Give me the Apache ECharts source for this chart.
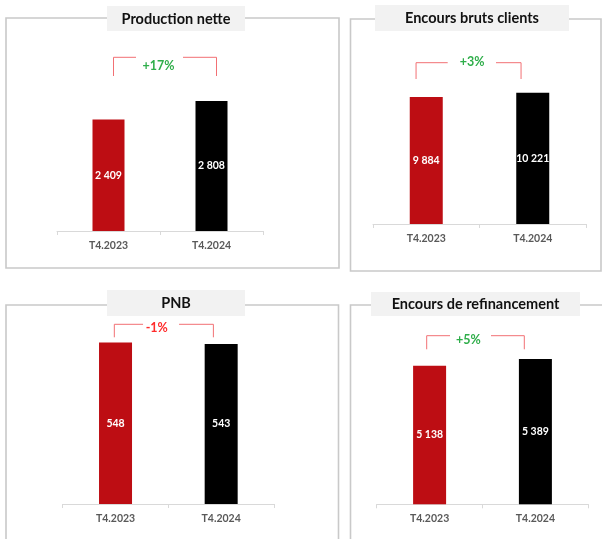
<!DOCTYPE html>
<html>
<head>
<meta charset="utf-8">
<script src="https://cdn.jsdelivr.net/npm/echarts@6/dist/echarts.min.js"></script>
<style>
html,body{margin:0;padding:0;background:#fff;}
#c{width:602px;height:539px;}
</style>
</head>
<body>
<div id="c"></div>
<script>
// ---- data ----
const categories = ['T4.2023', 'T4.2024'];
const panelTitles = ['Production nette', 'Encours bruts clients', 'PNB', 'Encours de refinancement'];
const productionNette = [2409, 2808];
const encoursBrutsClients = [9884, 10221];
const pnb = [548, 543];
const encoursRefinancement = [5138, 5389];
const changeLabels = ['+17%', '+3%', '-1%', '+5%'];
const seriesValues = [productionNette, encoursBrutsClients, pnb, encoursRefinancement];

// ---- layout / style (not data) ----
const FONT = 'Lato, "Noto Sans", sans-serif';
const RED = '#bd0d13';
const BLACK = '#000000';
const GREEN = '#2fae4a';
const NEG = '#ff2b2b';
const BRACKET = '#f27074';

const layouts = [
  { grid: {left: 57, top: 60, width: 206, height: 171}, yMax: 3693, barW: 32,
    box: [6, 18, 339, 268], tbox: [107, 6, 245, 31],
    br: {dx0: 5, dx1: 5, top: -2.7, leg: 18.7, tdx: -1.5, tdy: 8.7, gl: -22.5, gr: 24.5} },
  { grid: {left: 373, top: 60, width: 213, height: 164}, yMax: 12763, barW: 33,
    box: [350.5, 19, 601, 271], tbox: [375, 5, 569, 31],
    br: {dx0: -10.2, dx1: -11.7, top: 2.7, leg: 16.3, tdx: -7.5, tdy: -0.7, gl: -24.3, gr: 24} },
  { grid: {left: 62.7, top: 320, width: 211.3, height: 184}, yMax: 624.8, barW: 33,
    box: [6, 305, 338.5, 545], tbox: [107, 290, 245, 316],
    br: {dx0: -1.2, dx1: -7.8, top: 4.3, leg: 13, tdx: -11.6, tdy: 3.7, gl: -13.7, gr: 22.3} },
  { grid: {left: 376.7, top: 320, width: 211.6, height: 184.3}, yMax: 6831, barW: 33,
    box: [350.5, 305, 605, 545], tbox: [371, 292, 580, 316],
    br: {dx0: -2.9, dx1: -11.1, top: 15.7, leg: 13.6, tdx: -14.2, tdy: 4.3, gl: -18.3, gr: 22.7} }
];

function fmt(v) {
  return String(v).replace(/\B(?=(\d{3})+(?!\d))/g, ' ');
}

const grids = [], xAxes = [], yAxes = [], series = [], graphics = [];

layouts.forEach(function (L, i) {
  grids.push(Object.assign({containLabel: false}, L.grid));
  xAxes.push({
    type: 'category', gridIndex: i, data: categories,
    axisLine: {show: true, lineStyle: {color: '#d9d9d9', width: 1}},
    axisTick: {show: true, length: 4, lineStyle: {color: '#d9d9d9'}},
    axisLabel: {color: '#595959', fontFamily: FONT, fontWeight: 'bold', fontSize: 10.5, margin: 9}
  });
  yAxes.push({
    type: 'value', gridIndex: i, min: 0, max: L.yMax, show: false,
    splitLine: {show: false}
  });
  series.push({
    type: 'bar', xAxisIndex: i, yAxisIndex: i, barWidth: L.barW,
    data: seriesValues[i].map(function (v, j) {
      return {value: v, itemStyle: {color: j === 0 ? RED : BLACK}};
    }),
    label: {
      show: true, position: 'inside', color: '#ffffff', fontFamily: FONT,
      fontWeight: 'bold', fontSize: 10.5,
      formatter: function (p) { return fmt(p.value); }
    },
    silent: true
  });
  const br = L.br;
  const lbl = changeLabels[i];
  series.push({
    type: 'custom', xAxisIndex: i, yAxisIndex: i, clip: false, silent: true,
    data: [[0, 0]],
    renderItem: function (params, api) {
      const p0 = api.coord([0, 0]);
      const p1 = api.coord([1, 0]);
      const top = params.coordSys.y + br.top;
      const x0 = p0[0] + br.dx0, x1 = p1[0] + br.dx1;
      const tx = (p0[0] + p1[0]) / 2 + br.tdx;
      const ty = top + br.tdy;
      const ls = {stroke: BRACKET, lineWidth: 1, fill: null};
      return {
        type: 'group',
        children: [
          {type: 'polyline', shape: {points: [[x0, top + br.leg], [x0, top], [tx + br.gl, top]]}, style: ls},
          {type: 'polyline', shape: {points: [[tx + br.gr, top], [x1, top], [x1, top + br.leg]]}, style: ls},
          {type: 'text', style: {
            text: lbl, x: tx, y: ty, align: 'center', verticalAlign: 'middle',
            fill: lbl.charAt(0) === '-' ? NEG : GREEN,
            font: 'bold 12.5px ' + FONT
          }}
        ]
      };
    }
  });
  const b = L.box;
  graphics.push({
    type: 'rect', z: 0, silent: true,
    shape: {x: b[0], y: b[1], width: b[2] - b[0], height: b[3] - b[1]},
    style: {fill: null, stroke: '#c9c9c9', lineWidth: 1.6}
  });
  const t = L.tbox;
  graphics.push({
    type: 'rect', z: 1, silent: true,
    shape: {x: t[0], y: t[1], width: t[2] - t[0], height: t[3] - t[1]},
    style: {fill: '#f2f2f2'}
  });
  graphics.push({
    type: 'text', z: 2, silent: true,
    style: {
      text: panelTitles[i], x: (t[0] + t[2]) / 2, y: (t[1] + t[3]) / 2 + 0.5,
      align: 'center', verticalAlign: 'middle', fill: '#111111',
      font: 'bold 14.5px ' + FONT
    }
  });
});

const chart = echarts.init(document.getElementById('c'), null, {renderer: 'canvas'});
chart.setOption({
  backgroundColor: '#ffffff',
  animation: false,
  grid: grids,
  xAxis: xAxes,
  yAxis: yAxes,
  series: series,
  graphic: graphics
});
</script>
</body>
</html>
